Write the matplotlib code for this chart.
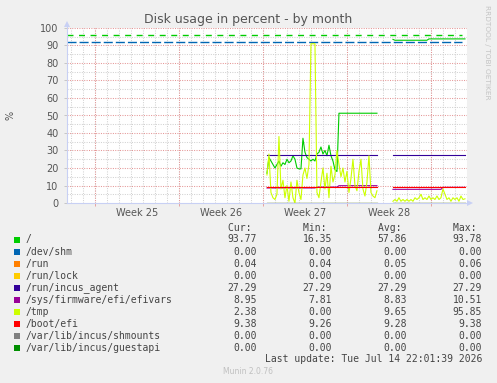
import numpy as np
import matplotlib
matplotlib.use("Agg")
import matplotlib.pyplot as plt
from matplotlib.lines import Line2D
from matplotlib.patches import Polygon, Rectangle

plt.rcParams["lines.scale_dashes"] = False

W, H = 497, 383

# time axis in days, 0 = Monday of week 25
x_start, x_end = -2.333, 31.0
week_starts = [0, 7, 14, 21, 28]
week_labels = ["Week 25", "Week 26", "Week 27", "Week 28"]

# samples every 4 hours, two stretches with a gap between them
seg1_start, seg2_start, step = 14.33, 24.83, 1 / 6.0

root_1 = [17, 26, 24, 22, 20, 22, 24, 21, 23, 22, 25, 23, 24, 27, 25, 20, 19.5, 19.5,
          37, 29, 26, 25, 24, 25, 24, 28, 29, 32, 28, 30, 27, 33, 27, 24, 19, 18,
          51.3] + [51.3] * 19
root_2 = [93.5] + [93.0] * 17 + [93.77] * 19

tmp_1 = [16, 28, 6, 3, 2, 5, 38, 8, 13, 3, 10, 1, 12, 3, 0, 13, 6, 2, 16, 20, 14, 22,
         91, 91, 91, 6, 3, 12, 20, 8, 17, 3, 21, 12, 16, 30, 22, 15, 20, 12, 18, 6,
         14, 25, 10, 7, 18, 25, 8, 4, 12, 27, 6, 4, 3, 7]
tmp_2 = [1, 2, 1, 3, 1, 2, 1, 2, 1, 2, 1, 3, 2, 3, 5, 2, 3, 2, 4, 2, 3, 2, 4, 2, 3,
         8, 5, 2, 3, 1, 3, 2, 3, 1, 4, 2, 2.4]

efivars_1 = [8.6] * 25 + [9.1] * 11 + [9.9] * 20
efivars_2 = [7.81] * 25 + [8.95] * 12
bootefi_1 = [9.26] * 56
bootefi_2 = [9.38] * 37
agent_1 = [27.29] * 56
agent_2 = [27.29] * 37
run_1 = [0.05] * 56
run_2 = [0.04] * 37
zero_1 = [0.0] * 56
zero_2 = [0.0] * 37

warn_level = 92
crit_level = 96

names = ["/", "/dev/shm", "/run", "/run/lock", "/run/incus_agent",
         "/sys/firmware/efi/efivars", "/tmp", "/boot/efi",
         "/var/lib/incus/shmounts", "/var/lib/incus/guestapi"]
colors = ["#00CC00", "#0066B3", "#FF8000", "#FFCC00", "#330099",
          "#990099", "#CCFF00", "#FF0000", "#808080", "#008F00"]
cur = ["93.77", "0.00", "0.04", "0.00", "27.29", "8.95", "2.38", "9.38", "0.00", "0.00"]
mins = ["16.35", "0.00", "0.04", "0.00", "27.29", "7.81", "0.00", "9.26", "0.00", "0.00"]
avgs = ["57.86", "0.00", "0.05", "0.00", "27.29", "8.83", "9.65", "9.28", "0.00", "0.00"]
maxs = ["93.78", "0.00", "0.06", "0.00", "27.29", "10.51", "95.85", "9.38", "0.00", "0.00"]

series = [(root_1, root_2), (zero_1, zero_2), (run_1, run_2), (zero_1, zero_2),
          (agent_1, agent_2), (efivars_1, efivars_2), (tmp_1, tmp_2),
          (bootefi_1, bootefi_2), (zero_1, zero_2), (zero_1, zero_2)]


def fx(px):
    return px / W


def fy(py):
    return 1 - py / H


fig = plt.figure(figsize=(W / 100, H / 100), dpi=100, facecolor="#F0F0F0")
ax = fig.add_axes([fx(67), fy(203), 400 / W, 175 / H])
ax.set_facecolor("white")
ax.set_xlim(x_start, x_end)
ax.set_ylim(0, 100)
for s in ax.spines.values():
    s.set_visible(False)

# grid
dot = (0, (0.72, 1.0))
for d in range(-2, 32):
    ax.axvline(d, color="#D0D0D0", lw=0.75, ls=dot, zorder=0)
for v in range(5, 100, 10):
    ax.axhline(v, color="#D0D0D0", lw=0.75, ls=dot, zorder=0)
for d in week_starts:
    ax.axvline(d, color="#E49494", lw=0.75, ls=dot, zorder=1)
for v in range(10, 101, 10):
    ax.axhline(v, color="#E49494", lw=0.75, ls=dot, zorder=1)

ax.set_yticks(range(0, 101, 10))
ax.set_yticklabels([str(v) for v in range(0, 101, 10)])
ax.tick_params(axis="y", length=2, width=0.6, color="#C0C0C0", pad=4,
               labelsize=7, labelcolor="#555555")
ax.set_xticks(week_starts)
ax.set_xticklabels([])
ax.tick_params(axis="x", length=2, width=0.6, color="#E49494", direction="out")
for i, lab in enumerate(week_labels):
    ax.text(week_starts[i] + 3.5, -5.5, lab, ha="center", va="center",
            fontsize=7, color="#555555")

# data
for (s1, s2), c in zip(series, colors):
    t1 = seg1_start + step * np.arange(len(s1))
    t2 = seg2_start + step * np.arange(len(s2))
    ax.plot(t1, s1, color=c, lw=0.8, zorder=3)
    ax.plot(t2, s2, color=c, lw=0.8, zorder=3)

ax.plot([x_start, 30.58], [crit_level, crit_level], color="#00CC00", lw=1.0,
        ls=(0, (4.3, 4.0)), zorder=2)
ax.plot([x_start, 30.58], [warn_level, warn_level], color="#0066B3", lw=1.0,
        ls=(0, (6.5, 2.2)), zorder=2)

# axis arrows
ac = "#C8D0F4"
fig.add_artist(Line2D([fx(67), fx(67)], [fy(203), fy(24)], color=ac, lw=0.8))
fig.add_artist(Line2D([fx(67), fx(469)], [fy(203), fy(203)], color=ac, lw=0.8))
fig.add_artist(Polygon([[fx(64), fy(27)], [fx(70), fy(27)], [fx(67), fy(21)]],
                       closed=True, color=ac, lw=0))
fig.add_artist(Polygon([[fx(467), fy(200)], [fx(467), fy(206)], [fx(473), fy(203)]],
                       closed=True, color=ac, lw=0))

fig.text(fx(248), fy(19), "Disk usage in percent - by month", ha="center", va="center",
         fontsize=9, color="#555555")
fig.text(fx(10), fy(115), "%", rotation=90, ha="center", va="center",
         fontsize=7, color="#555555")
fig.text(fx(487), fy(52), "RRDTOOL / TOBI OETIKER", rotation=270, ha="center",
         va="center", fontsize=5.3, color="#C4C4C4")

# legend table
mono = "DejaVu Sans Mono"
tc = "#444444"
col_x = [257, 332, 407, 482]
for x, h in zip(col_x, ["Cur:", "Min:", "Avg:", "Max:"]):
    fig.text(fx(x), fy(228), h + " ", ha="right", va="center", family=mono,
             fontsize=7, color=tc)
for i, name in enumerate(names):
    y = 239.5 + 12.05 * i
    fig.add_artist(Rectangle((fx(14), fy(y + 3)), 6 / W, 6 / H, color=colors[i], lw=0))
    fig.text(fx(26), fy(y), name, ha="left", va="center", family=mono,
             fontsize=7, color=tc)
    for x, v in zip(col_x, [cur[i], mins[i], avgs[i], maxs[i]]):
        fig.text(fx(x), fy(y), v, ha="right", va="center", family=mono,
                 fontsize=7, color=tc)
fig.text(fx(482), fy(359.5), "Last update: Tue Jul 14 22:01:39 2026", ha="right",
         va="center", family=mono, fontsize=7, color=tc)
fig.text(fx(248), fy(372), "Munin 2.0.76", ha="center", va="center",
         fontsize=5.5, color="#C0C0C0")

fig.savefig("out.png", dpi=100, facecolor=fig.get_facecolor())
